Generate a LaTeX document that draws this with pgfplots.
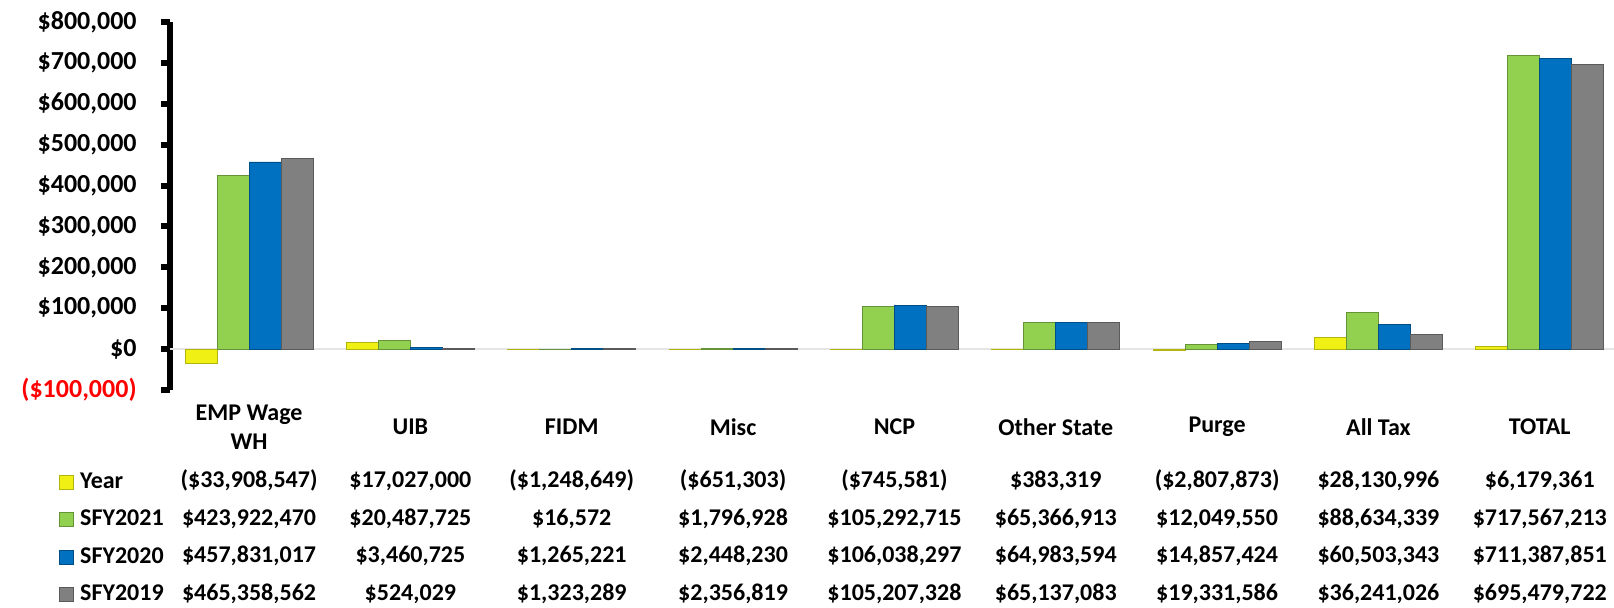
\documentclass[border=0pt]{standalone}
\usepackage{fontspec}
\setmainfont{Carlito}
\usepackage{pgfplots}
\pgfplotsset{compat=1.18}
\definecolor{cy}{RGB}{240,240,20}
\definecolor{cg}{RGB}{146,208,80}
\definecolor{cb}{RGB}{0,112,192}
\definecolor{cgr}{RGB}{128,128,128}
\newcommand{\tabfont}{\fontsize{12}{14.5}\selectfont\bfseries}
\newcommand{\tv}[3]{\node[font=\tabfont, anchor=base, inner sep=0pt] at ([yshift=-#2]axis cs:#1,-100000) {#3};}
\begin{document}
\begin{tikzpicture}
\useasboundingbox (0,0) rectangle (807pt,304pt);
\begin{axis}[
  at={(85pt,109pt)}, anchor=south west,
  width=722pt, height=184pt, scale only axis,
  xmin=-0.49, xmax=8.46, ymin=-100000, ymax=800000,
  scaled y ticks=false,
  ybar=0pt, bar width=0.198,
  axis y line*=left, axis x line*=bottom,
  x axis line style={draw=none},
  y axis line style={line width=3pt, black, -},
  xtick={0,...,8},
  xtick style={draw=none},
  xticklabels={{EMP Wage\\WH},UIB,FIDM,Misc,NCP,{Other State},Purge,{All Tax},TOTAL},
  xticklabel style={align=center, font=\fontsize{12}{14.5}\selectfont\bfseries, anchor=center, yshift=-14pt},
  ytick={-100000,0,100000,200000,300000,400000,500000,600000,700000,800000},
  yticklabels={{\textcolor{red}{(\$100,000)}},{\$0},{\$100,000},{\$200,000},{\$300,000},{\$400,000},{\$500,000},{\$600,000},{\$700,000},{\$800,000}},
  yticklabel style={font=\fontsize{13}{15}\selectfont\bfseries, anchor=east, inner sep=0pt, xshift=-12pt},
  tick align=outside, major tick length=4.5pt,
  ytick style={line width=3pt, black},
  clip=false,
  legend style={at={(axis description cs:0,0)}, anchor=north west, xshift=-55.5pt, yshift=-40.85pt,
    draw=none, fill=none, inner sep=0pt, font=\tabfont, row sep=8.75pt,
    nodes={inner sep=0pt, text height=8pt, text depth=2pt}},
  legend cell align=left,
  legend image code/.code={\fill[#1] (0pt,-3.5pt) rectangle (7pt,3.5pt); \path (10pt,0pt);},
]
\draw[black!10, line width=0.8pt] (axis cs:-0.49,0) -- (axis cs:8.46,0);
\addplot[fill=cy, draw=cy!75!black, line width=0.4pt] coordinates {(0,-33908.547) (1,17027.000) (2,-1248.649) (3,-651.303) (4,-745.581) (5,383.319) (6,-2807.873) (7,28130.996) (8,6179.361)};
\addplot[fill=cg, draw=cg!70!black, line width=0.4pt] coordinates {(0,423922.470) (1,20487.725) (2,16.572) (3,1796.928) (4,105292.715) (5,65366.913) (6,12049.550) (7,88634.339) (8,717567.213)};
\addplot[fill=cb, draw=cb!70!black, line width=0.4pt] coordinates {(0,457831.017) (1,3460.725) (2,1265.221) (3,2448.230) (4,106038.297) (5,64983.594) (6,14857.424) (7,60503.343) (8,711387.851)};
\addplot[fill=cgr, draw=cgr!70!black, line width=0.4pt] coordinates {(0,465358.562) (1,524.029) (2,1323.289) (3,2356.819) (4,105207.328) (5,65137.083) (6,19331.586) (7,36241.026) (8,695479.722)};
\legend{Year,SFY2021,SFY2020,SFY2019}
% data table
\tv{0}{48.85pt}{(\$33,908,547)}
\tv{1}{48.85pt}{\$17,027,000}
\tv{2}{48.85pt}{(\$1,248,649)}
\tv{3}{48.85pt}{(\$651,303)}
\tv{4}{48.85pt}{(\$745,581)}
\tv{5}{48.85pt}{\$383,319}
\tv{6}{48.85pt}{(\$2,807,873)}
\tv{7}{48.85pt}{\$28,130,996}
\tv{8}{48.85pt}{\$6,179,361}
\tv{0}{67.6pt}{\$423,922,470}
\tv{1}{67.6pt}{\$20,487,725}
\tv{2}{67.6pt}{\$16,572}
\tv{3}{67.6pt}{\$1,796,928}
\tv{4}{67.6pt}{\$105,292,715}
\tv{5}{67.6pt}{\$65,366,913}
\tv{6}{67.6pt}{\$12,049,550}
\tv{7}{67.6pt}{\$88,634,339}
\tv{8}{67.6pt}{\$717,567,213}
\tv{0}{86.35pt}{\$457,831,017}
\tv{1}{86.35pt}{\$3,460,725}
\tv{2}{86.35pt}{\$1,265,221}
\tv{3}{86.35pt}{\$2,448,230}
\tv{4}{86.35pt}{\$106,038,297}
\tv{5}{86.35pt}{\$64,983,594}
\tv{6}{86.35pt}{\$14,857,424}
\tv{7}{86.35pt}{\$60,503,343}
\tv{8}{86.35pt}{\$711,387,851}
\tv{0}{105.1pt}{\$465,358,562}
\tv{1}{105.1pt}{\$524,029}
\tv{2}{105.1pt}{\$1,323,289}
\tv{3}{105.1pt}{\$2,356,819}
\tv{4}{105.1pt}{\$105,207,328}
\tv{5}{105.1pt}{\$65,137,083}
\tv{6}{105.1pt}{\$19,331,586}
\tv{7}{105.1pt}{\$36,241,026}
\tv{8}{105.1pt}{\$695,479,722}
\end{axis}
\end{tikzpicture}
\end{document}
